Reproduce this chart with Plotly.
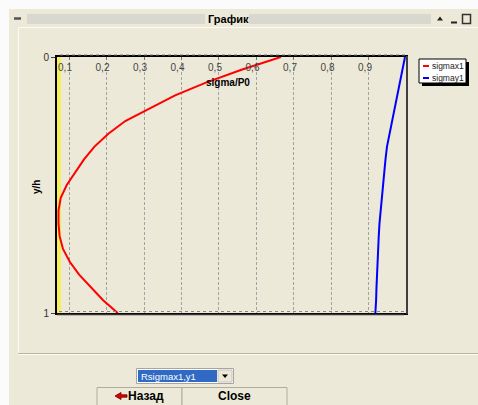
import plotly.graph_objects as go

W, H = 478, 405

# Depth coordinate and the two stress profiles
y_h = [0.00, 0.05, 0.10, 0.15, 0.20, 0.25, 0.30, 0.35, 0.40, 0.45, 0.50,
       0.55, 0.60, 0.65, 0.70, 0.75, 0.80, 0.85, 0.90, 0.95, 1.00]
sigmax1 = [0.665, 0.560, 0.465, 0.383, 0.317, 0.250, 0.205, 0.168, 0.140, 0.117, 0.094,
           0.078, 0.072, 0.072, 0.075, 0.084, 0.102, 0.127, 0.158, 0.191, 0.230]
sigmay1 = [0.996, 0.989, 0.982, 0.975, 0.968, 0.961, 0.954, 0.948, 0.944, 0.941, 0.938,
           0.934, 0.930, 0.928, 0.926, 0.924, 0.923, 0.921, 0.920, 0.919, 0.917]

series_names = ["sigmax1", "sigmay1"]
series_colors = ["#ff0000", "#0000ff"]

x_ticks = [0.1, 0.2, 0.3, 0.4, 0.5, 0.6, 0.7, 0.8, 0.9]
x_tick_text = ["0,1", "0,2", "0,3", "0,4", "0,5", "0,6", "0,7", "0,8", "0,9"]
y_ticks = [0, 1]
y_tick_text = ["0", "1"]

window_title = "График"
x_title = "sigma/P0"
y_title = "y/h"
combo_text = "Rsigmax1,y1"
button_labels = ["Назад", "Close"]

BEIGE = "#ece9d8"
FONT = "Liberation Sans"


def px(x):
    return x / W


def py(y):
    return 1 - y / H


fig = go.Figure()
for name, vals, col in zip(series_names, [sigmax1, sigmay1], series_colors):
    fig.add_trace(go.Scatter(x=vals, y=y_h, mode="lines", name=name,
                             line=dict(color=col, width=2), showlegend=False,
                             hoverinfo="skip"))

shapes = []
annotations = []


def rect(x0, y0, x1, y1, fill=None, line=None, lw=1, layer="above", dash=None):
    d = dict(type="rect", xref="paper", yref="paper",
             x0=px(x0), x1=px(x1), y0=py(y0), y1=py(y1), layer=layer,
             line=dict(width=lw if line else 0, color=line or "rgba(0,0,0,0)"))
    if dash:
        d["line"]["dash"] = dash
    if fill:
        d["fillcolor"] = fill
    shapes.append(d)


def hline(x0, x1, y, color, lw=1, dash=None, layer="above"):
    d = dict(type="line", xref="paper", yref="paper", x0=px(x0), x1=px(x1),
             y0=py(y), y1=py(y), layer=layer, line=dict(color=color, width=lw))
    if dash:
        d["line"]["dash"] = dash
    shapes.append(d)


def vline(x, y0, y1, color, lw=1, dash=None, layer="above"):
    d = dict(type="line", xref="paper", yref="paper", x0=px(x), x1=px(x),
             y0=py(y0), y1=py(y1), layer=layer, line=dict(color=color, width=lw))
    if dash:
        d["line"]["dash"] = dash
    shapes.append(d)


def text(x, y, s, size=10, color="#000", bold=False, xanchor="center", angle=0):
    annotations.append(dict(x=px(x), y=py(y), xref="paper", yref="paper",
                            text=f"<b>{s}</b>" if bold else s, showarrow=False,
                            xanchor=xanchor, yanchor="middle", textangle=angle,
                            borderpad=0,
                            font=dict(family=FONT, size=size, color=color)))


# Window surroundings
rect(0, 0, W, 9, fill="#fbfbfb")
rect(0, 0, 9, H, fill="#fbfbfb")

# Title bar with grip stripes
for yy in [15, 17, 19, 21, 23]:
    hline(27, 205, yy, "#c6c6c6")
    hline(249, 431, yy, "#c6c6c6")
hline(14, 21, 18.5, "#555", lw=2.5)
shapes.append(dict(type="path", xref="paper", yref="paper",
                   path=f"M {px(437)},{py(20.5)} L {px(443)},{py(20.5)} L {px(440)},{py(16.5)} Z",
                   fillcolor="#222", line=dict(width=0)))
hline(451, 457, 22.5, "#222", lw=2)
rect(462.5, 14.5, 470.5, 23.5, line="#333", lw=1.5)
text(228, 19, window_title, size=11, bold=True)

# Panel borders
hline(18, W, 27.5, "#fbfaf5")
vline(18.5, 27, 353, "#fbfaf5")
hline(18, W, 353.5, "#b9b5a2")
hline(18, W, 354.5, "#fbfaf5")

# Plot frame extras: depth edges and the yellow band on the left
hline(60, 406, 55, "#777", dash="dot")
hline(59, 405, 311.5, "#888", dash="dot")
hline(57, 404, 314.5, "#333", lw=1.5)
vline(407, 56, 314, "#555", lw=1.5)
shapes.append(dict(type="rect", xref="x domain", yref="y domain",
                   x0=0, x1=4 / 349, y0=0, y1=1, layer="below",
                   fillcolor="#f6ee5a", line=dict(width=0)))

# Axis titles
text(228, 82, x_title, size=10, bold=True)
text(37, 187, y_title, size=10, bold=True, angle=-90)

# Legend box with shadow
rect(422, 62, 469, 86, fill="#000")
rect(419, 59, 466, 83, fill="#ffffff", line="#000", lw=1)
for i, (name, col) in enumerate(zip(series_names, series_colors)):
    yy = 66 + i * 12
    hline(423, 429, yy, col, lw=2)
    text(430.5, yy, name, size=8.5, color="#222", xanchor="left")

# Combo box
rect(136.5, 368.5, 233.5, 383.5, fill="#ffffff", line="#a5a5a5")
rect(138, 370, 217, 382, fill="#316ac5")
text(140, 376, combo_text, size=9.5, color="#ffffff", xanchor="left")
rect(218, 370, 232, 382, fill=BEIGE, line="#c8c5b5")
shapes.append(dict(type="path", xref="paper", yref="paper",
                   path=f"M {px(222)},{py(374.5)} L {px(228)},{py(374.5)} L {px(225)},{py(378)} Z",
                   fillcolor="#000", line=dict(width=0)))

# Buttons
rect(97, 387.5, 182, 410, line="#b0ad9e", fill=BEIGE)
rect(182, 387.5, 287, 410, line="#b0ad9e", fill=BEIGE)
shapes.append(dict(type="path", xref="paper", yref="paper",
                   path=(f"M {px(115)},{py(396)} L {px(121)},{py(392.5)} L {px(121)},{py(394.8)} "
                         f"L {px(127)},{py(394.8)} L {px(127)},{py(397.2)} L {px(121)},{py(397.2)} "
                         f"L {px(121)},{py(399.5)} Z"),
                   fillcolor="#e00000", line=dict(width=0.8, color="#600")))
text(146, 396, button_labels[0], size=12, bold=True)
text(234, 396, button_labels[1], size=12, bold=True)

fig.update_layout(
    width=W, height=H,
    margin=dict(l=0, r=0, t=0, b=0, autoexpand=False),
    paper_bgcolor=BEIGE, plot_bgcolor=BEIGE,
    showlegend=False,
    shapes=shapes, annotations=annotations,
    font=dict(family=FONT, size=10, color="#333"),
    xaxis=dict(domain=[px(57), px(406)], range=[0.068, 0.9987], side="top",
               automargin=False,
               tickvals=x_ticks, ticktext=x_tick_text,
               ticklabelposition="inside", ticklabelshift=-4, ticklabelstandoff=3,
               ticklabeloverflow="allow",
               ticks="inside", ticklen=3, tickcolor="#777",
               showgrid=True, gridcolor="#a2a2a2", griddash="3px,2px", gridwidth=1,
               showline=True, linecolor="#000", linewidth=1.5, mirror=True,
               zeroline=False, tickfont=dict(size=10, color="#444", family=FONT)),
    yaxis=dict(domain=[py(313), py(57)], range=[1, 0],
               automargin=False,
               tickvals=y_ticks, ticktext=y_tick_text, ticklabeloverflow="allow",
               ticks="outside", ticklen=4, tickcolor="#444",
               showgrid=False, zeroline=False,
               showline=True, linecolor="#000", linewidth=2, mirror=True,
               tickfont=dict(size=10, color="#333", family=FONT)),
)

fig.write_html("out.html")
